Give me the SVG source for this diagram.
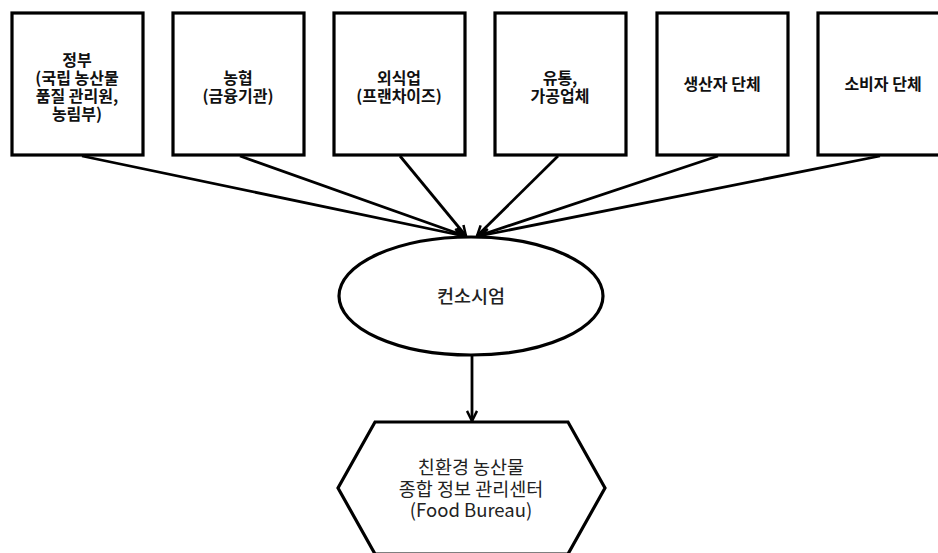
<svg xmlns="http://www.w3.org/2000/svg" width="938" height="553" viewBox="0 0 938 553">
<defs>
<style>
.box{fill:#fff;stroke:#000;stroke-width:3.2}
.bt{font-family:"Noto Sans CJK KR","Noto Sans",sans-serif;font-size:16px;font-weight:bold;text-anchor:middle;fill:#111}
.nt{font-family:"Noto Sans CJK KR","Noto Sans",sans-serif;font-size:18.5px;text-anchor:middle;fill:#222}
.ln{stroke:#000;stroke-width:2.8;fill:none;marker-end:url(#ah)}
</style>
<marker id="ah" viewBox="0 0 10 10" refX="9" refY="5" markerWidth="4.5" markerHeight="4.5" orient="auto" markerUnits="strokeWidth">
<path d="M1,1 L9,5 L1,9" fill="none" stroke="#000" stroke-width="2"/>
</marker>
</defs>
<rect width="938" height="553" fill="#fff"/>
<g id="connectors">
<line class="ln" x1="82" y1="156" x2="464" y2="236"/>
<line class="ln" x1="240" y1="156" x2="465" y2="236"/>
<line class="ln" x1="400" y1="156" x2="466" y2="236"/>
<line class="ln" x1="558" y1="156" x2="477" y2="236"/>
<line class="ln" x1="718" y1="156" x2="478" y2="236"/>
<line class="ln" x1="880" y1="156" x2="479" y2="236"/>
<line class="ln" x1="472" y1="355" x2="472" y2="421"/>
</g>
<g id="n1"><rect class="box" x="12" y="13" width="131" height="142"/>
<text class="bt"><tspan x="77" y="66">정부</tspan><tspan x="77" y="84">(국립 농산물</tspan><tspan x="77" y="102">품질 관리원,</tspan><tspan x="77" y="120">농림부)</tspan></text></g>
<g id="n2"><rect class="box" x="173" y="13" width="131" height="142"/>
<text class="bt"><tspan x="238" y="84">농협</tspan><tspan x="238" y="102">(금융기관)</tspan></text></g>
<g id="n3"><rect class="box" x="334" y="13" width="131" height="142"/>
<text class="bt"><tspan x="399" y="84">외식업</tspan><tspan x="399" y="102">(프랜차이즈)</tspan></text></g>
<g id="n4"><rect class="box" x="495" y="13" width="131" height="142"/>
<text class="bt"><tspan x="560" y="84">유통,</tspan><tspan x="560" y="102">가공업체</tspan></text></g>
<g id="n5"><rect class="box" x="657" y="13" width="131" height="142"/>
<text class="bt" x="722" y="90">생산자 단체</text></g>
<g id="n6"><rect class="box" x="818" y="13" width="131" height="142"/>
<text class="bt" x="883" y="90">소비자 단체</text></g>
<g id="consortium"><ellipse class="box" cx="471" cy="296" rx="132" ry="59" stroke-width="3"/>
<text class="nt" x="471" y="303" font-size="19" font-weight="500">컨소시엄</text></g>
<g id="foodbureau"><polygon class="box" points="375,422 568,422 605,488 568,554 375,554 338,488" stroke-width="3"/>
<text class="nt"><tspan x="471" y="474">친환경 농산물</tspan><tspan x="471" y="496">종합 정보 관리센터</tspan><tspan x="471" y="517">(Food Bureau)</tspan></text></g>
</svg>
